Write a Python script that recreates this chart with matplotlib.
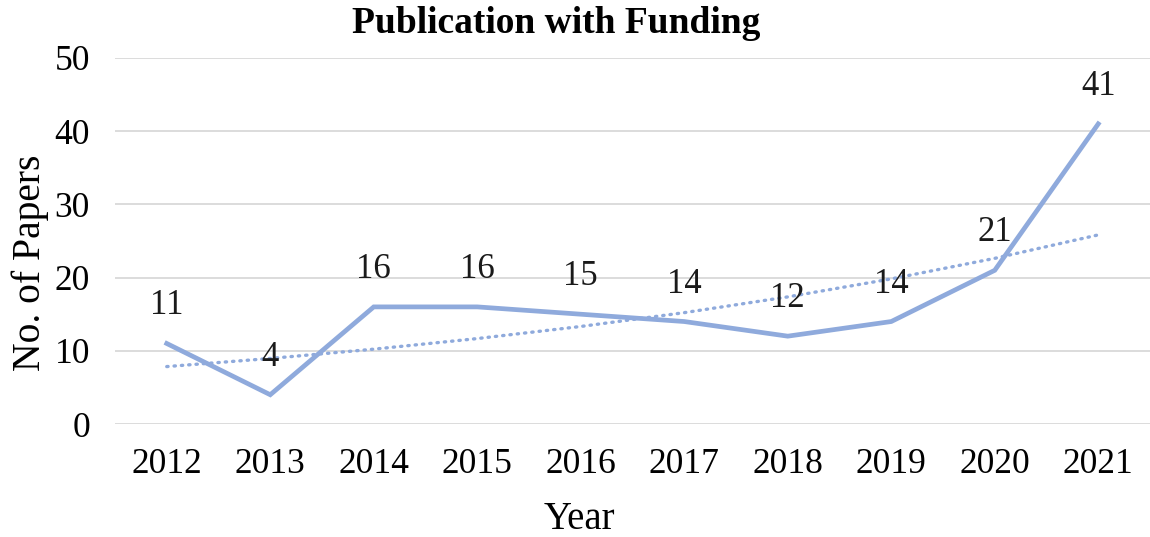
import numpy as np
import matplotlib
matplotlib.use("Agg")
import matplotlib.pyplot as plt

plt.rcParams['font.family'] = ['Liberation Serif', 'DejaVu Serif']

years = ['2012', '2013', '2014', '2015', '2016', '2017', '2018', '2019', '2020', '2021']
papers = [11, 4, 16, 16, 15, 14, 12, 14, 21, 41]
line_color = '#8FAADC'

x = np.arange(len(years))
y = np.array(papers, dtype=float)

# exponential trendline (like Excel's)
b, a = np.polyfit(x, np.log(y), 1)
trend = np.exp(a + b * x)

fig = plt.figure(figsize=(11.5, 5.37), dpi=100)
ax = fig.add_axes([0.1, 0.2104, 0.9, 0.6816])

ax.plot(x, y, color=line_color, lw=3.4, solid_joinstyle='miter', zorder=3)
ax.plot(x, trend, color=line_color, lw=2.4, linestyle=(0, (0.4, 1.8)),
        dash_capstyle='round', zorder=2)

for xi, yi in zip(x, papers):
    ax.annotate(str(yi), (xi, yi), xytext=(0, 27), textcoords='offset points',
                ha='center', va='center', fontsize=25, color='#1a1a1a', zorder=4)

ax.set_xlim(-0.5, 9.5)
ax.set_ylim(0, 50)
ax.set_yticks(range(0, 51, 10))
ax.set_xticks(x)
ax.set_xticklabels(years)
ax.tick_params(axis='both', length=0, labelsize=25.5, pad=17)
ax.tick_params(axis='y', pad=18)
ax.grid(axis='y', color='#d9d9d9', lw=1.3)
ax.set_axisbelow(True)
for s in ax.spines.values():
    s.set_visible(False)

fig.text(0.504, 0.014, 'Year', ha='center', va='baseline', fontsize=28)
fig.text(0.026, 0.51, 'No. of Papers', ha='center', va='center',
         rotation=90, fontsize=28.5)
fig.text(0.484, 0.957, 'Publication with Funding', ha='center', va='center',
         fontsize=27, fontweight='bold')

fig.savefig('out.png', dpi=100)
